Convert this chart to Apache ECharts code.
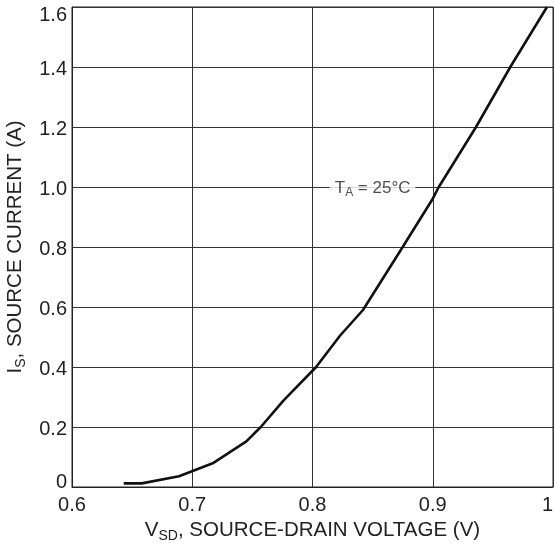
<!DOCTYPE html>
<html>
<head>
<meta charset="utf-8">
<script src="https://cdn.jsdelivr.net/npm/echarts@6/dist/echarts.min.js"></script>
<style>
html,body{margin:0;padding:0;background:#fff;}
#c{width:555px;height:546px;}
</style>
</head>
<body>
<div id="c"></div>
<script>
var vsd = [0.643, 0.658, 0.689, 0.717, 0.745, 0.757, 0.776, 0.803, 0.823, 0.842, 0.875, 0.900, 0.905, 0.936, 0.9645, 0.995];
var isCurrent = [0.012, 0.012, 0.036, 0.079, 0.152, 0.200, 0.289, 0.400, 0.505, 0.590, 0.800, 0.961, 1.000, 1.200, 1.400, 1.600];
var xTickLabels = ['0.6', '0.7', '0.8', '0.9', '1'];
var yTickLabels = ['0', '0.2', '0.4', '0.6', '0.8', '1.0', '1.2', '1.4', '1.6'];
var annotation = {x: 0.85, y: 1.0};

var FONT = 'Liberation Sans, Arial, sans-serif';
var chart = echarts.init(document.getElementById('c'));
var pts = vsd.map(function (v, i) { return [v, isCurrent[i]]; });

chart.setOption({
  animation: false,
  grid: {left: 72, right: 2, top: 7, bottom: 59, show: true, borderColor: '#222', borderWidth: 1,
         containLabel: false, outerBoundsMode: 'none'},
  xAxis: {
    type: 'value', min: 0.6, max: 1.0, interval: 0.1,
    axisLine: {show: true, lineStyle: {color: '#222', width: 1}},
    axisTick: {show: false},
    splitLine: {show: true, lineStyle: {color: '#333', width: 1}},
    axisLabel: {
      color: '#222', fontFamily: FONT, fontSize: 20, margin: 8,
      alignMaxLabel: 'right',
      formatter: function (v) { return xTickLabels[Math.round((v - 0.6) * 10)]; }
    },
    name: '{v|V}{s|SD}{v|, SOURCE-DRAIN VOLTAGE (V)}',
    nameLocation: 'middle', nameGap: 29,
    nameTextStyle: {
      rich: {
        v: {fontFamily: FONT, fontSize: 20.5, color: '#222', verticalAlign: 'bottom', lineHeight: 24},
        s: {fontFamily: FONT, fontSize: 14, color: '#222', verticalAlign: 'bottom', lineHeight: 17, padding: [0, 0, -2, 0]}
      }
    }
  },
  yAxis: {
    type: 'value', min: 0, max: 1.6, interval: 0.2,
    axisLine: {show: true, lineStyle: {color: '#222', width: 1}},
    axisTick: {show: false},
    splitLine: {show: true, lineStyle: {color: '#333', width: 1}},
    axisLabel: {
      color: '#222', fontFamily: FONT, fontSize: 20, margin: 5,
      formatter: function (v) {
        var i = Math.round(v * 5);
        var t = yTickLabels[i];
        if (i === yTickLabels.length - 1) return '{top|' + t + '}';
        if (i === 0) return '{bot|' + t + '}';
        return '{n|' + t + '}';
      },
      rich: {
        n: {fontFamily: FONT, fontSize: 20, color: '#222', padding: [4, 0, 0, 0]},
        top: {fontFamily: FONT, fontSize: 20, color: '#222', padding: [16, 0, 0, 0]},
        bot: {fontFamily: FONT, fontSize: 20, color: '#222', padding: [0, 0, 10, 0]}
      }
    },
    name: '{v|I}{s|S}{v|, SOURCE CURRENT (A)}',
    nameLocation: 'middle', nameGap: 46, nameRotate: 90,
    nameTextStyle: {
      rich: {
        v: {fontFamily: FONT, fontSize: 20.5, color: '#222', verticalAlign: 'bottom', lineHeight: 24},
        s: {fontFamily: FONT, fontSize: 14, color: '#222', verticalAlign: 'bottom', lineHeight: 17, padding: [0, 0, -2, 0]}
      }
    }
  },
  series: [
    {
      type: 'line', data: pts, symbol: 'none', smooth: false,
      lineStyle: {color: '#111', width: 2.6}, z: 3
    },
    {
      type: 'scatter', data: [[annotation.x, annotation.y]], symbolSize: 0, z: 2,
      label: {
        show: true, position: 'inside', backgroundColor: '#fff', padding: [2, 5, 2, 5],
        formatter: '{t|T}{s|A}{t| = 25°C}',
        rich: {
          t: {fontFamily: FONT, fontSize: 17, color: '#222', verticalAlign: 'bottom', lineHeight: 20},
          s: {fontFamily: FONT, fontSize: 12, color: '#222', verticalAlign: 'bottom', lineHeight: 15, padding: [0, 0, -2, 0]}
        }
      }
    }
  ]
});
</script>
</body>
</html>
